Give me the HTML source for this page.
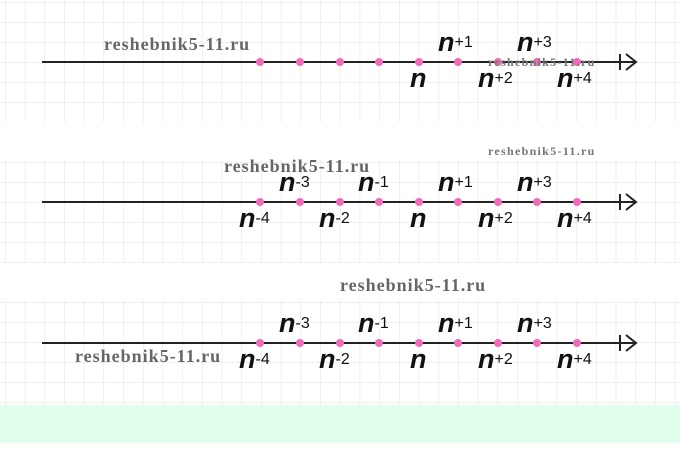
<!DOCTYPE html>
<html><head><meta charset="utf-8"><style>
body{margin:0;width:680px;height:476px;background:#fff;overflow:hidden;position:relative;font-family:"Liberation Sans",sans-serif}
.wm{position:absolute;font-family:"Liberation Serif",serif;font-weight:bold;color:#666;white-space:nowrap;font-size:18px;letter-spacing:1px}
.sm{font-size:12px;letter-spacing:1.3px;color:#777}
</style></head><body>
<svg width="680" height="476" style="position:absolute;left:0;top:0">
<defs>
<pattern id="g" x="5" y="2" width="19.7" height="20" patternUnits="userSpaceOnUse">
<path d="M0 0V20M0 0H19.7" stroke="#e6e6e6" stroke-width="1.2" fill="none"/>
</pattern>
</defs>
<rect x="0" y="0" width="680" height="122" fill="url(#g)"/>
<rect x="0" y="160" width="680" height="103" fill="url(#g)"/>
<rect x="0" y="300" width="680" height="105" fill="url(#g)"/>
<rect x="0" y="405" width="680" height="38" fill="#dfffec"/>
<g stroke="#222" stroke-width="2" fill="none">
<path d="M42 62H636M620 54V70M626 54L636 62L626 70"/>
<path d="M42 202H636M620 194V210M626 194L636 202L626 210"/>
<path d="M42 343H636M620 335V351M626 335L636 343L626 351"/>
</g>
<g fill="#f06bb8">
<circle cx="260" cy="62" r="4"/><circle cx="300" cy="62" r="4"/><circle cx="340" cy="62" r="4"/><circle cx="379" cy="62" r="4"/><circle cx="419" cy="62" r="4"/><circle cx="458" cy="62" r="4"/><circle cx="498" cy="62" r="4"/><circle cx="537" cy="62" r="4"/><circle cx="577" cy="62" r="4"/>
<circle cx="260" cy="202" r="4"/><circle cx="300" cy="202" r="4"/><circle cx="340" cy="202" r="4"/><circle cx="379" cy="202" r="4"/><circle cx="419" cy="202" r="4"/><circle cx="458" cy="202" r="4"/><circle cx="498" cy="202" r="4"/><circle cx="537" cy="202" r="4"/><circle cx="577" cy="202" r="4"/>
<circle cx="260" cy="343" r="4"/><circle cx="300" cy="343" r="4"/><circle cx="340" cy="343" r="4"/><circle cx="379" cy="343" r="4"/><circle cx="419" cy="343" r="4"/><circle cx="458" cy="343" r="4"/><circle cx="498" cy="343" r="4"/><circle cx="537" cy="343" r="4"/><circle cx="577" cy="343" r="4"/>
</g>
<g font-family="Liberation Sans,sans-serif" fill="#111">
<text x="410" y="87" font-size="27" font-style="italic" font-weight="bold">n</text>
<text x="438" y="51" font-size="27" font-style="italic" font-weight="bold">n<tspan font-size="16" font-style="normal" font-weight="normal" dy="-4">+1</tspan></text>
<text x="478" y="87" font-size="27" font-style="italic" font-weight="bold">n<tspan font-size="16" font-style="normal" font-weight="normal" dy="-4">+2</tspan></text>
<text x="517" y="51" font-size="27" font-style="italic" font-weight="bold">n<tspan font-size="16" font-style="normal" font-weight="normal" dy="-4">+3</tspan></text>
<text x="557" y="87" font-size="27" font-style="italic" font-weight="bold">n<tspan font-size="16" font-style="normal" font-weight="normal" dy="-4">+4</tspan></text>
</g>
<g font-family="Liberation Sans,sans-serif" fill="#111">
<text x="239" y="227" font-size="27" font-style="italic" font-weight="bold">n<tspan font-size="16" font-style="normal" font-weight="normal" dy="-4">-4</tspan></text>
<text x="279" y="191" font-size="27" font-style="italic" font-weight="bold">n<tspan font-size="16" font-style="normal" font-weight="normal" dy="-4">-3</tspan></text>
<text x="319" y="227" font-size="27" font-style="italic" font-weight="bold">n<tspan font-size="16" font-style="normal" font-weight="normal" dy="-4">-2</tspan></text>
<text x="358" y="191" font-size="27" font-style="italic" font-weight="bold">n<tspan font-size="16" font-style="normal" font-weight="normal" dy="-4">-1</tspan></text>
<text x="410" y="227" font-size="27" font-style="italic" font-weight="bold">n</text>
<text x="438" y="191" font-size="27" font-style="italic" font-weight="bold">n<tspan font-size="16" font-style="normal" font-weight="normal" dy="-4">+1</tspan></text>
<text x="478" y="227" font-size="27" font-style="italic" font-weight="bold">n<tspan font-size="16" font-style="normal" font-weight="normal" dy="-4">+2</tspan></text>
<text x="517" y="191" font-size="27" font-style="italic" font-weight="bold">n<tspan font-size="16" font-style="normal" font-weight="normal" dy="-4">+3</tspan></text>
<text x="557" y="227" font-size="27" font-style="italic" font-weight="bold">n<tspan font-size="16" font-style="normal" font-weight="normal" dy="-4">+4</tspan></text>
</g>
<g font-family="Liberation Sans,sans-serif" fill="#111">
<text x="239" y="368" font-size="27" font-style="italic" font-weight="bold">n<tspan font-size="16" font-style="normal" font-weight="normal" dy="-4">-4</tspan></text>
<text x="279" y="332" font-size="27" font-style="italic" font-weight="bold">n<tspan font-size="16" font-style="normal" font-weight="normal" dy="-4">-3</tspan></text>
<text x="319" y="368" font-size="27" font-style="italic" font-weight="bold">n<tspan font-size="16" font-style="normal" font-weight="normal" dy="-4">-2</tspan></text>
<text x="358" y="332" font-size="27" font-style="italic" font-weight="bold">n<tspan font-size="16" font-style="normal" font-weight="normal" dy="-4">-1</tspan></text>
<text x="410" y="368" font-size="27" font-style="italic" font-weight="bold">n</text>
<text x="438" y="332" font-size="27" font-style="italic" font-weight="bold">n<tspan font-size="16" font-style="normal" font-weight="normal" dy="-4">+1</tspan></text>
<text x="478" y="368" font-size="27" font-style="italic" font-weight="bold">n<tspan font-size="16" font-style="normal" font-weight="normal" dy="-4">+2</tspan></text>
<text x="517" y="332" font-size="27" font-style="italic" font-weight="bold">n<tspan font-size="16" font-style="normal" font-weight="normal" dy="-4">+3</tspan></text>
<text x="557" y="368" font-size="27" font-style="italic" font-weight="bold">n<tspan font-size="16" font-style="normal" font-weight="normal" dy="-4">+4</tspan></text>
</g>
</svg>
<div class="wm" style="left:104px;top:34px">reshebnik5-11.ru</div>
<div class="wm sm" style="left:488px;top:55px">reshebnik5-11.ru</div>
<div class="wm sm" style="left:488px;top:144px">reshebnik5-11.ru</div>
<div class="wm" style="left:224px;top:156px">reshebnik5-11.ru</div>
<div class="wm" style="left:340px;top:275px">reshebnik5-11.ru</div>
<div class="wm" style="left:75px;top:346px">reshebnik5-11.ru</div>
</body></html>
